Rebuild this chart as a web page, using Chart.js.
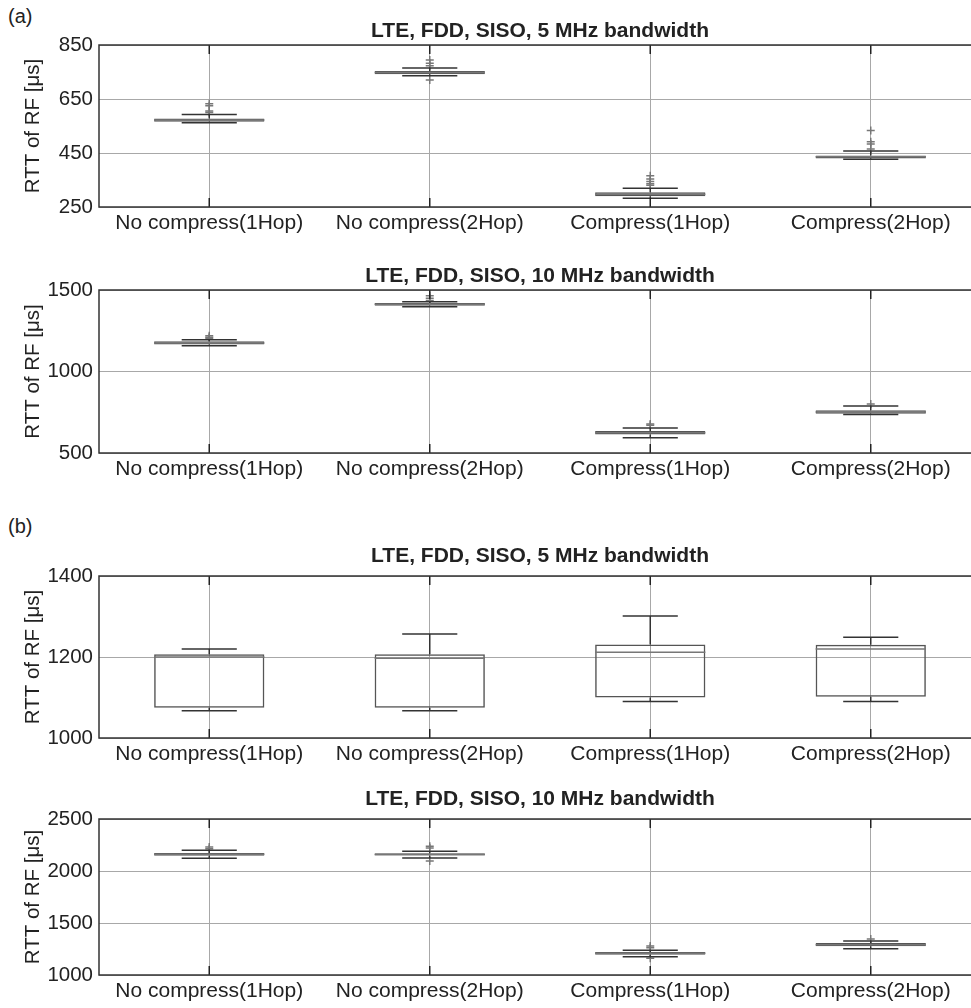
<!DOCTYPE html>
<html>
<head>
<meta charset="utf-8">
<script src="https://cdn.jsdelivr.net/npm/chart.js@4.4.0/dist/chart.umd.min.js"></script>
<style>
  body { margin: 0; background: #fff; overflow: hidden; width: 971px; height: 1008px; position: relative; }
  canvas { position: absolute; left: 0; }
  .tag { position: absolute; left: 8px; font: 20px "Liberation Sans", Arial, sans-serif; color: #222; }
</style>
</head>
<body>
<div class="tag" style="top:5px">(a)</div>
<div class="tag" style="top:515px">(b)</div>
<canvas id="a5" width="981" height="242" style="top:0px"></canvas>
<canvas id="a10" width="981" height="243" style="top:245px"></canvas>
<canvas id="b5" width="981" height="242" style="top:531px"></canvas>
<canvas id="b10" width="981" height="236" style="top:774px"></canvas>
<script>
const categories = ['No compress(1Hop)', 'No compress(2Hop)', 'Compress(1Hop)', 'Compress(2Hop)'];

// (a) 5 MHz
const a5Min = [562, 736, 282, 427];
const a5Q1 = [566, 742, 290, 430];
const a5Med = [572, 748, 297, 436];
const a5Q3 = [578, 754, 305, 441];
const a5Max = [593, 765, 319, 457];
const a5Out = [[600, 606, 625, 632], [720, 773, 782, 794], [331, 336, 344, 354, 366], [465, 483, 492, 533]];

// (a) 10 MHz
const a10Min = [1158, 1398, 594, 736];
const a10Q1 = [1165, 1404, 614, 741];
const a10Med = [1175, 1412, 624, 751];
const a10Q3 = [1185, 1421, 635, 762];
const a10Max = [1195, 1428, 653, 788];
const a10Out = [[1202, 1210, 1220], [1436, 1449, 1465], [670, 678], [800]];

// (b) 5 MHz
const b5Min = [1067, 1067, 1090, 1090];
const b5Q1 = [1075, 1075, 1100, 1102];
const b5Med = [1200, 1197, 1212, 1220];
const b5Q3 = [1207, 1207, 1231, 1230];
const b5Max = [1220, 1257, 1301, 1249];
const b5Out = [[], [], [], []];

// (b) 10 MHz
const b10Min = [2122, 2125, 1176, 1253];
const b10Q1 = [2147, 2148, 1195, 1276];
const b10Med = [2160, 2158, 1208, 1292];
const b10Q3 = [2173, 2170, 1221, 1308];
const b10Max = [2199, 2189, 1237, 1327];
const b10Out = [[2215, 2231], [2096, 2221, 2237], [1160, 1263, 1279], [1346]];

Chart.defaults.font.family = '"Liberation Sans", Arial, sans-serif';
Chart.defaults.color = '#222';

// whiskers, medians, tick marks and the axes box
function boxParts(lo, q1, med, q3, hi) {
    return {
        id: 'boxParts',
        afterDatasetsDraw(chart) {
            const { ctx, chartArea: a, scales: { x, y } } = chart;
            const w = x.getPixelForValue(1) - x.getPixelForValue(0);
            const seg = (x1, y1, x2, y2) => { ctx.beginPath(); ctx.moveTo(x1, y1); ctx.lineTo(x2, y2); ctx.stroke(); };
            ctx.save();
            ctx.lineWidth = 1.5;
            lo.forEach((v, i) => {
                const cx = x.getPixelForValue(i);
                const yHi = y.getPixelForValue(hi[i]), yLo = y.getPixelForValue(v);
                ctx.strokeStyle = '#333';
                seg(cx, y.getPixelForValue(q3[i]), cx, yHi);
                seg(cx, y.getPixelForValue(q1[i]), cx, yLo);
                seg(cx - w * 0.125, yHi, cx + w * 0.125, yHi);
                seg(cx - w * 0.125, yLo, cx + w * 0.125, yLo);
                ctx.strokeStyle = '#777';
                const yM = y.getPixelForValue(med[i]);
                seg(cx - w * 0.25, yM, cx + w * 0.25, yM);
                ctx.strokeStyle = '#222';
                seg(cx, a.top, cx, a.top + 9);
                seg(cx, a.bottom - 9, cx, a.bottom);
            });
            ctx.strokeStyle = '#333';
            ctx.strokeRect(a.left, a.top, a.right - a.left, a.bottom - a.top);
            ctx.restore();
        }
    };
}

function makeChart(id, title, gap, yMin, yMax, yStep, lo, q1, med, q3, hi, out) {
    const outPts = [];
    out.forEach((vals, i) => vals.forEach(v => outPts.push({ x: categories[i], y: v })));
    const ctx = document.getElementById(id).getContext('2d');
    return new Chart(ctx, {
        type: 'bar',
        data: {
            labels: categories,
            datasets: [{
                type: 'line',
                data: outPts,
                showLine: false,
                pointStyle: 'cross',
                pointRadius: 4,
                pointBorderColor: '#777',
                pointBorderWidth: 1.5,
                order: 0
            }, {
                type: 'bar',
                data: q1.map((v, i) => [v, q3[i]]),
                backgroundColor: 'rgba(0,0,0,0)',
                borderColor: '#555',
                borderWidth: 1.5,
                borderSkipped: false,
                barPercentage: 0.5,
                categoryPercentage: 1,
                order: 1
            }]
        },
        options: {
            responsive: false,
            animation: false,
            layout: { padding: 0, autoPadding: false },
            plugins: {
                legend: { display: false },
                tooltip: { enabled: false },
                title: {
                    display: true,
                    text: title,
                    fullSize: false,
                    color: '#222',
                    font: { size: 21, weight: 'bold' },
                    padding: { top: 32.4 - gap, bottom: gap - 12.6 }
                }
            },
            scales: {
                x: {
                    type: 'category',
                    offset: true,
                    grid: { offset: false, color: '#a8a8a8', drawTicks: false },
                    border: { display: false },
                    ticks: { font: { size: 21 }, color: '#222', padding: 4, maxRotation: 0, autoSkip: false },
                    afterFit: s => { s.height = 35; }
                },
                y: {
                    min: yMin,
                    max: yMax,
                    grid: { color: '#a8a8a8', drawTicks: false },
                    border: { display: false },
                    ticks: { stepSize: yStep, font: { size: 20.5 }, color: '#222', padding: 6, callback: v => String(v) },
                    title: {
                        display: true,
                        text: 'RTT of RF [μs]',
                        color: '#222',
                        font: { size: 20.5 },
                        padding: { top: 21, bottom: 0 }
                    },
                    afterFit: s => { s.width = 99; }
                }
            }
        },
        plugins: [boxParts(lo, q1, med, q3, hi)]
    });
}

makeChart('a5', 'LTE, FDD, SISO, 5 MHz bandwidth', 14, 250, 850, 200, a5Min, a5Q1, a5Med, a5Q3, a5Max, a5Out);
makeChart('a10', 'LTE, FDD, SISO, 10 MHz bandwidth', 13.5, 500, 1500, 500, a10Min, a10Q1, a10Med, a10Q3, a10Max, a10Out);
makeChart('b5', 'LTE, FDD, SISO, 5 MHz bandwidth', 19.5, 1000, 1400, 200, b5Min, b5Q1, b5Med, b5Q3, b5Max, b5Out);
makeChart('b10', 'LTE, FDD, SISO, 10 MHz bandwidth', 19.5, 1000, 2500, 500, b10Min, b10Q1, b10Med, b10Q3, b10Max, b10Out);
</script>
</body>
</html>
